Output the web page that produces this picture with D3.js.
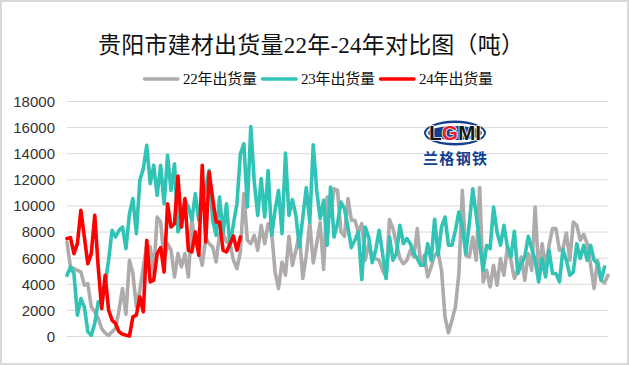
<!DOCTYPE html>
<html>
<head>
<meta charset="utf-8">
<script src="https://cdn.jsdelivr.net/npm/d3@7"></script>
<style>
  html, body { margin: 0; padding: 0; background: #fff; }
  svg { display: block; }
</style>
</head>
<body>
<div id="chart"></div>
<script>
const titleText = "贵阳市建材出货量22年-24年对比图（吨）";
const seriesNames = ["22年出货量", "23年出货量", "24年出货量"];
const yTicks = [0, 2000, 4000, 6000, 8000, 10000, 12000, 14000, 16000, 18000];

// weekly shipments
const tons22 = [
  7240, 5330, 5200, 5070, 4950, 3930, 4050, 2270, 1890, 1380, 610, 280, 80, 360, 610, 2010, 3670, 1710, 5840, 4820,
  2270, 3540, 5330, 6990, 6860, 4820, 9150, 8770, 5840, 7110, 6600, 4560, 6350, 5330, 6350, 4560, 8900, 7110, 6600, 5460,
  7500, 7110, 6860, 5710, 7880, 7880, 7240, 7110, 5840, 5200, 6480, 10940, 7370, 7110, 7750, 6600, 8520, 7110, 8640, 8010,
  4950, 3670, 5710, 4690, 7680, 5460, 6600, 7880, 4440, 6220, 8770, 5640, 7110, 8720, 5130, 10680, 9150, 11320, 11190, 8010,
  7680, 10560, 8900, 8900, 8010, 8640, 5840, 7110, 6090, 5970, 5840, 5070, 4560, 8950, 8260, 7110, 5970, 5580, 5840, 6600,
  6090, 8260, 5460, 6220, 4560, 5330, 6220, 6480, 5070, 1500, 280, 1250, 2270, 4820, 11190, 6220, 6090, 7620, 5840, 11400,
  4180, 5070, 3800, 5460, 3930, 5970, 4690, 6860, 5840, 4440, 5070, 6090, 4310, 6350, 5070, 9920, 4850, 7110, 5330, 6990,
  8260, 8260, 6600, 6730, 7930, 5840, 8770, 8520, 7370, 7830, 7110, 5460, 3670, 5840, 4310, 4110, 4690
];
const tons23 = [
  4690, 5330, 4820, 1630, 2910, 2270, 360, 100, 990, 2650, 2650, 4050, 5840, 8130, 7620, 8130, 8390, 6730, 9410, 10560,
  7880, 11960, 12850, 14640, 11700, 13110, 10810, 13110, 10170, 13870, 11190, 13230, 8010, 8640, 10430, 9920, 8900, 10940, 8900, 10430,
  11450, 12720, 8900, 7750, 10680, 7880, 10170, 6860, 8640, 10170, 14000, 14760, 9920, 16090, 11830, 9280, 12090, 9150, 12720, 7750,
  9660, 11190, 7880, 14050, 9280, 10480, 9280, 6860, 9150, 11400, 8770, 14690, 11190, 9030, 10430, 6990, 11450, 7620, 8640, 10300,
  9790, 8390, 6810, 7370, 8010, 4360, 8390, 7620, 5660, 6600, 8130, 6350, 4440, 7620, 5840, 6350, 8520, 7110, 7500, 7110,
  6350, 5970, 5460, 5460, 7110, 5840, 8980, 6220, 8390, 9150, 6990, 6990, 8130, 9540, 8390, 6350, 8640, 11320, 9280, 7110,
  5070, 6990, 6730, 9920, 8010, 6990, 8520, 6860, 6090, 8060, 4820, 5580, 6090, 7680, 6730, 5840, 4180, 5970, 4560, 6600,
  4820, 4820, 4180, 6660, 5840, 4690, 4950, 7110, 5970, 6990, 5840, 6990, 5840, 5580, 4310, 5330
];
const tons24 = [
  7500, 7570, 6350, 7110, 9660, 7620, 5580, 6350, 9280, 5330, 2140, 4690, 2010, 1250, 990, 360, 180, 100, 30, 1500,
  1630, 3030, 1890, 7370, 4180, 4310, 6350, 6810, 4950, 10170, 8390, 8640, 12290, 8390, 10560, 6600, 6480, 8010, 6220, 13110,
  7240, 12600, 10560, 8770, 8770, 6600, 6480, 7110, 7680, 6600, 7620
];
const seriesValues = [tons22, tons23, tons24];
const seriesColors = ["#AFABAB", "#31C3B5", "#FF0000"];

const svgWidth = 629;
const svgHeight = 365;
const weekCount = tons22.length;

const svg = d3.select("#chart").append("svg").attr("width", svgWidth).attr("height", svgHeight);

// outer frame
svg.append("rect")
  .attr("x", 1).attr("y", 1)
  .attr("width", svgWidth - 2).attr("height", svgHeight - 2)
  .attr("fill", "#fff").attr("stroke", "#d9d9d9").attr("stroke-width", 2);

const x = d3.scaleLinear().domain([0, weekCount - 1]).range([67, 608]);
const y = d3.scaleLinear().domain([0, 18000]).range([336.5, 101.5]);

// gridlines and labels
svg.selectAll(".grid")
  .data(yTicks)
  .enter()
  .append("line")
  .attr("class", "grid")
  .attr("x1", 67)
  .attr("x2", 608)
  .attr("y1", (d) => y(d))
  .attr("y2", (d) => y(d))
  .attr("stroke", "#d9d9d9")
  .attr("stroke-width", 1);

svg.selectAll(".ytick")
  .data(yTicks)
  .enter()
  .append("text")
  .attr("class", "ytick")
  .attr("x", 55)
  .attr("y", (d) => y(d))
  .attr("dy", "0.36em")
  .attr("text-anchor", "end")
  .style("font-family", "'Liberation Sans', Arial, sans-serif")
  .style("font-size", "15px")
  .style("fill", "#333")
  .text((d) => d);

// logo sits under the lines
const logo = svg.append("g").attr("class", "logo");
logo.append("ellipse")
  .attr("cx", 455).attr("cy", 133).attr("rx", 31).attr("ry", 12.5)
  .attr("fill", "#12408f");
logo.append("ellipse")
  .attr("cx", 455).attr("cy", 133).attr("rx", 29).attr("ry", 10)
  .attr("fill", "#fff");
logo.append("ellipse")
  .attr("cx", 455).attr("cy", 133).attr("rx", 27).attr("ry", 7)
  .attr("fill", "#12408f");
const logoText = logo.append("text")
  .attr("x", 455)
  .attr("y", 140)
  .attr("text-anchor", "middle")
  .attr("textLength", 52)
  .attr("lengthAdjust", "spacingAndGlyphs")
  .style("font-family", "'Liberation Sans', Arial, sans-serif")
  .style("font-weight", "bold")
  .style("font-size", "20px")
  .style("fill", "#151515")
  .style("stroke", "#fff")
  .style("stroke-width", 1.5)
  .style("paint-order", "stroke");
logoText.append("tspan").text("L");
logoText.append("tspan").style("fill", "#e5202a").text("G");
logoText.append("tspan").text("MI");
logo.append("text")
  .attr("x", 455).attr("y", 164)
  .attr("text-anchor", "middle")
  .attr("textLength", 64)
  .style("font-family", "'Noto Sans CJK SC'")
  .style("font-weight", "bold")
  .style("font-size", "15px")
  .style("fill", "#12408f")
  .text("兰格钢铁");

// series lines
const line = d3.line().x((d, i) => x(i)).y((d) => y(d));
svg.selectAll(".series")
  .data(seriesValues)
  .enter()
  .append("path")
  .attr("class", "series")
  .attr("d", (d) => line(d))
  .attr("fill", "none")
  .attr("stroke", (d, i) => seriesColors[i])
  .attr("stroke-width", 3.6)
  .attr("stroke-linejoin", "round")
  .attr("stroke-linecap", "round");

// title
svg.append("text")
  .attr("x", 311)
  .attr("y", 53)
  .attr("text-anchor", "middle")
  .attr("textLength", 426)
  .style("font-family", "'Liberation Serif', 'Noto Sans CJK SC', serif")
  .style("font-size", "23px")
  .style("fill", "#111")
  .text(titleText);

// legend
const legendX = [143, 261, 379];
const legend = svg.selectAll(".legend")
  .data(seriesNames)
  .enter()
  .append("g")
  .attr("class", "legend")
  .attr("transform", (d, i) => `translate(${legendX[i]},79)`);

legend.append("line")
  .attr("x1", 1.5)
  .attr("x2", 35)
  .attr("stroke", (d, i) => seriesColors[i])
  .attr("stroke-width", 3.5)
  .attr("stroke-linecap", "round");

legend.append("text")
  .attr("x", 40)
  .attr("dy", "0.36em")
  .attr("textLength", 74)
  .style("font-family", "'Liberation Serif', 'Noto Sans CJK SC', serif")
  .style("font-size", "15px")
  .style("fill", "#111")
  .text((d) => d);
</script>
</body>
</html>
